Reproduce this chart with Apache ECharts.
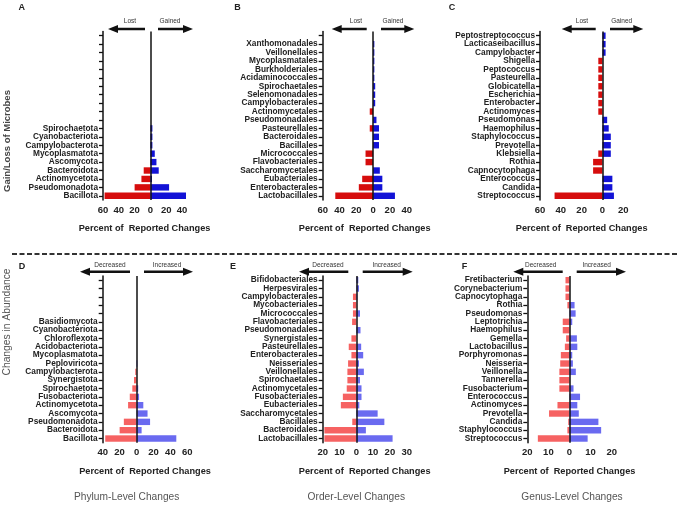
<!DOCTYPE html>
<html>
<head>
<meta charset="utf-8">
<script src="https://cdn.jsdelivr.net/npm/echarts@6/dist/echarts.min.js"></script>
<style>
  html, body { margin: 0; padding: 0; background: #fff; }
  #chart { width: 680px; height: 506px; }
</style>
</head>
<body>
<div id="chart"></div>
<script>
// empty category slots at the top of a panel
function blanks(n) {
  return Array.from({ length: n }, (_, i) => ' '.repeat(i + 1));
}

// A - phylum, gain/loss
const catsA = blanks(11).concat(['Spirochaetota', 'Cyanobacteriota', 'Campylobacterota', 'Mycoplasmatota',
  'Ascomycota', 'Bacteroidota', 'Actinomycetota', 'Pseudomonadota', 'Bacillota']);
const lostA = [null, null, null, null, null, null, null, null, null, null, null, 0, 0, 0, 0, 0, 8.5, 11.4, 20, 58];
const gainA = [null, null, null, null, null, null, null, null, null, null, null, 2.5, 2.5, 2.5, 5.5, 7.6, 10.5, 2, 23.6, 45];
const ticksA = [-60, -40, -20, 0, 20, 40];

// B - order, gain/loss
const catsB = blanks(1).concat(['Xanthomonadales', 'Veillonellales', 'Mycoplasmatales', 'Burkholderiales',
  'Acidaminococcales', 'Spirochaetales', 'Selenomonadales', 'Campylobacterales', 'Actinomycetales',
  'Pseudomonadales', 'Pasteurellales', 'Bacteroidales', 'Bacillales', 'Micrococcales', 'Flavobacteriales',
  'Saccharomycetales', 'Eubacteriales', 'Enterobacterales', 'Lactobacillales']);
const lostB = [null, 0, 0, 0, 0, 0, 0, 0, 0, 4, 0, 4, 0, 0, 9, 9, 0, 13, 17, 45];
const gainB = [null, 1.5, 1.5, 1.5, 1.5, 1.5, 2.5, 2.5, 2.5, 0, 4, 7, 7, 7, 0, 0, 8, 11, 11, 26];
const ticksB = [-60, -40, -20, 0, 20, 40];

// C - genus, gain/loss
const catsC = ['Peptostreptococcus', 'Lacticaseibacillus', 'Campylobacter', 'Shigella', 'Peptococcus',
  'Pasteurella', 'Globicatella', 'Escherichia', 'Enterobacter', 'Actinomyces', 'Pseudomonas', 'Haemophilus',
  'Staphylococcus', 'Prevotella', 'Klebsiella', 'Rothia', 'Capnocytophaga', 'Enterococcus', 'Candida',
  'Streptococcus'];
const lostC = [0, 0, 0, 4, 4, 4, 4, 4, 4, 4, 0, 0, 0, 0, 4, 9, 9, 0, 0, 46];
const gainC = [3, 3, 3, 0, 0, 0, 0, 0, 0, 0, 4.5, 6, 8, 8, 8, 0, 0, 9.5, 9.5, 11];
const ticksC = [-60, -40, -20, 0, 20];

// D - phylum, abundance
const catsD = blanks(5).concat(['Basidiomycota', 'Cyanobacteriota', 'Chloroflexota', 'Acidobacteriota',
  'Mycoplasmatota', 'Peploviricota', 'Campylobacterota', 'Synergistota', 'Spirochaetota', 'Fusobacteriota',
  'Actinomycetota', 'Ascomycota', 'Pseudomonadota', 'Bacteroidota', 'Bacillota']);
const decD = [null, null, null, null, null, 0, 0, 0, 0, 0, 0, 1.5, 3, 5, 8, 10, 0, 15, 20, 37];
const incD = [null, null, null, null, null, 0, 0, 0, 0, 0, 1, 0, 0, 2, 3, 8, 13, 16, 6, 47];
const ticksD = [-40, -20, 0, 20, 40, 60];

// E - order, abundance
const catsE = ['Bifidobacteriales', 'Herpesvirales', 'Campylobacterales', 'Mycobacteriales', 'Micrococcales',
  'Flavobacteriales', 'Pseudomonadales', 'Synergistales', 'Pasteurellales', 'Enterobacterales', 'Neisseriales',
  'Veillonellales', 'Spirochaetales', 'Actinomycetales', 'Fusobacteriales', 'Eubacteriales',
  'Saccharomycetales', 'Bacillales', 'Bacteroidales', 'Lactobacillales'];
const decE = [0, 0, 2, 2, 2, 2.5, 0, 2.9, 4.5, 2.9, 4.9, 5.3, 5.3, 5.7, 8, 9.2, 0, 2.4, 19, 19];
const incE = [1.2, 1.6, 0.6, 0, 2.2, 0, 2.5, 0, 2.9, 4.1, 1.6, 4.5, 2.2, 3.1, 3.1, 1.8, 12.7, 16.7, 5.7, 21.6];
const ticksE = [-20, -10, 0, 10, 20, 30];

// F - genus, abundance
const catsF = ['Fretibacterium', 'Corynebacterium', 'Capnocytophaga', 'Rothia', 'Pseudomonas', 'Leptotrichia',
  'Haemophilus', 'Gemella', 'Lactobacillus', 'Porphyromonas', 'Neisseria', 'Veillonella', 'Tannerella',
  'Fusobacterium', 'Enterococcus', 'Actinomyces', 'Prevotella', 'Candida', 'Staphylococcus', 'Streptococcus'];
const decF = [1.9, 1.9, 1.9, 1, 0, 3.2, 3.2, 1.6, 2.2, 4.1, 4.4, 4.8, 4.8, 4.8, 0, 5.7, 9.7, 0.6, 1, 15];
const incF = [0, 0, 0, 2.4, 2.9, 1.3, 0, 3.5, 3.7, 1.3, 1.6, 3, 0, 1.9, 5, 3.7, 4.4, 13.7, 15, 8.6];
const ticksF = [-20, -10, 0, 10, 20];

const font = 'Liberation Sans, Arial, sans-serif';
const axisColor = '#111';
const textColor = '#222';

// panel layouts
const panels = [
  { cats: catsA, neg: lostA, pos: gainA, ticks: ticksA, min: -60, max: 45, step: 20, left: 103, top: 31.5, width: 83, height: 168.5, red: '#d60d0d', blue: '#1212d6' },
  { cats: catsB, neg: lostB, pos: gainB, ticks: ticksB, min: -60, max: 40, step: 20, left: 322.7, top: 31.5, width: 84, height: 168.5, red: '#d60d0d', blue: '#1212d6' },
  { cats: catsC, neg: lostC, pos: gainC, ticks: ticksC, min: -60, max: 20, step: 20, left: 540, top: 31.5, width: 83.3, height: 168.5, red: '#d60d0d', blue: '#1212d6' },
  { cats: catsD, neg: decD, pos: incD, ticks: ticksD, min: -40, max: 60, step: 20, left: 102.7, top: 276, width: 84.6, height: 166.7, red: '#f66262', blue: '#6a6af0' },
  { cats: catsE, neg: decE, pos: incE, ticks: ticksE, min: -20, max: 30, step: 10, left: 322.7, top: 276, width: 84, height: 166.7, red: '#f66262', blue: '#6a6af0' },
  { cats: catsF, neg: decF, pos: incF, ticks: ticksF, min: -20, max: 20, step: 10, left: 527.3, top: 276, width: 84.4, height: 166.7, red: '#f66262', blue: '#6a6af0' }
];

const grid = [], xAxis = [], yAxis = [], series = [];
panels.forEach(function (p, i) {
  grid.push({ left: p.left, top: p.top, width: p.width, height: p.height, containLabel: false });
  xAxis.push({
    type: 'value', gridIndex: i, min: p.min, max: p.max, interval: p.step,
    name: 'Percent of  Reported Changes', nameLocation: 'middle', nameGap: 24,
    nameTextStyle: { fontSize: 9.2, fontWeight: 'bold', color: textColor, fontFamily: font },
    splitLine: { show: false },
    axisLine: { onZero: false, lineStyle: { color: axisColor, width: 1.5 } },
    axisTick: { length: 4, customValues: p.ticks, lineStyle: { color: axisColor, width: 1.3 } },
    axisLabel: {
      customValues: p.ticks, margin: 5, fontSize: 9.5, fontWeight: 'bold', color: textColor, fontFamily: font,
      formatter: function (v) { return Math.abs(v); }
    }
  });
  yAxis.push({
    type: 'category', gridIndex: i, inverse: true, data: p.cats,
    axisLine: { onZero: false, lineStyle: { color: axisColor, width: 1.5 } },
    axisTick: { show: true, alignWithLabel: true, length: 4, lineStyle: { color: axisColor, width: 1.3 } },
    axisLabel: { interval: 0, margin: 5, fontSize: 8.3, fontWeight: 'bold', color: textColor, fontFamily: font }
  });
  series.push({
    type: 'bar', xAxisIndex: i, yAxisIndex: i, barWidth: 6.4, barGap: '-100%',
    itemStyle: { color: p.red },
    data: p.neg.map(function (v) { return v == null ? null : -v; })
  });
  series.push({
    type: 'bar', xAxisIndex: i, yAxisIndex: i, barWidth: 6.4, barGap: '-100%',
    itemStyle: { color: p.blue },
    data: p.pos,
    markLine: {
      silent: true, symbol: ['none', 'none'], label: { show: false },
      lineStyle: { color: axisColor, width: 1.5, type: 'solid' },
      data: [{ xAxis: 0 }]
    }
  });
});

// direction arrow as one polygon
function arrow(tip, tail, y) {
  const d = tip < tail ? 1 : -1;
  const h = 10 * d;
  return {
    type: 'polygon',
    shape: { points: [[tip, y], [tip + h, y - 4], [tip + h, y - 1.3], [tail, y - 1.3], [tail, y + 1.3], [tip + h, y + 1.3], [tip + h, y + 4]] },
    style: { fill: '#111' }
  };
}
function label(text, x, y, size, weight, color, rot) {
  return {
    type: 'text', x: x, y: y, rotation: rot || 0,
    style: { text: text, textAlign: 'center', textVerticalAlign: 'middle', fontSize: size, fontWeight: weight || 'normal', fontFamily: font, fill: color || textColor }
  };
}

const graphic = [
  // top row arrows
  arrow(108, 145, 29), arrow(193, 158, 29), label('Lost', 130, 21.5, 6.5, 'normal', '#333'), label('Gained', 170, 21.5, 6.5, 'normal', '#333'),
  arrow(331.7, 366.7, 29), arrow(414.3, 381, 29), label('Lost', 356, 21.5, 6.5, 'normal', '#333'), label('Gained', 393, 21.5, 6.5, 'normal', '#333'),
  arrow(561.7, 595.7, 29), arrow(643.3, 610, 29), label('Lost', 582, 21.5, 6.5, 'normal', '#333'), label('Gained', 621.7, 21.5, 6.5, 'normal', '#333'),
  // bottom row arrows
  arrow(80, 130, 271.7), arrow(193, 144, 271.7), label('Decreased', 110, 265, 6.5, 'normal', '#333'), label('Increased', 167, 265, 6.5, 'normal', '#333'),
  arrow(299, 348.3, 271.7), arrow(412.7, 362.7, 271.7), label('Decreased', 328, 265, 6.5, 'normal', '#333'), label('Increased', 386.7, 265, 6.5, 'normal', '#333'),
  arrow(513.3, 562.7, 271.7), arrow(626, 576.7, 271.7), label('Decreased', 540.7, 265, 6.5, 'normal', '#333'), label('Increased', 596.7, 265, 6.5, 'normal', '#333'),
  // panel letters
  label('A', 21.7, 7.5, 9, 'bold', '#222'), label('B', 237.5, 7.5, 9, 'bold', '#222'), label('C', 452, 7.5, 9, 'bold', '#222'),
  label('D', 22, 266.5, 9, 'bold', '#222'), label('E', 233, 266.5, 9, 'bold', '#222'), label('F', 464.5, 266.5, 9, 'bold', '#222'),
  // row titles
  label('Gain/Loss of Microbes', 7.5, 141, 9.5, 'bold', '#444', Math.PI / 2),
  label('Changes in Abundance', 7.5, 322, 10.3, 'normal', '#555', Math.PI / 2),
  // column titles
  label('Phylum-Level Changes', 126.7, 497.5, 10.2, 'normal', '#555'),
  label('Order-Level Changes', 356.3, 497.5, 10.2, 'normal', '#555'),
  label('Genus-Level Changes', 572, 497.5, 10.2, 'normal', '#555'),
  // separator
  { type: 'line', shape: { x1: 12, y1: 254, x2: 677, y2: 254 }, style: { stroke: '#333', lineWidth: 2, lineDash: [5, 2.5] } }
];

const chart = echarts.init(document.getElementById('chart'));
chart.setOption({
  animation: false,
  backgroundColor: '#fff',
  textStyle: { fontFamily: font },
  grid: grid,
  xAxis: xAxis,
  yAxis: yAxis,
  series: series,
  graphic: graphic
});
window.addEventListener('resize', function () { chart.resize(); });
</script>
</body>
</html>
